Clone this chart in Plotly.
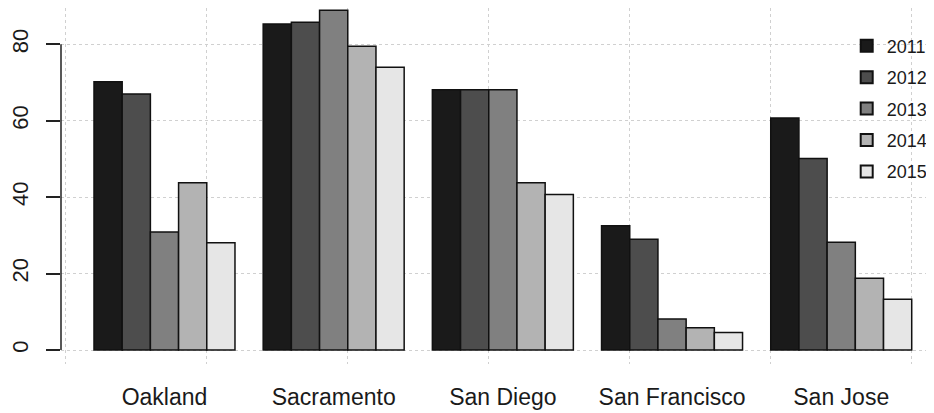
import plotly.graph_objects as go

cities = ["Oakland", "Sacramento", "San Diego", "San Francisco", "San Jose"]
years = ["2011", "2012", "2013", "2014", "2015"]
v2011 = [70.2, 85.3, 68.1, 32.5, 60.7]
v2012 = [67.0, 85.8, 68.1, 29.0, 50.1]
v2013 = [30.9, 88.9, 68.1, 8.1, 28.2]
v2014 = [43.8, 79.5, 43.8, 5.8, 18.8]
v2015 = [28.1, 74.0, 40.7, 4.6, 13.3]
series = [v2011, v2012, v2013, v2014, v2015]
colors = ["#1a1a1a", "#4d4d4d", "#808080", "#b3b3b3", "#e6e6e6"]
ytick_vals = [0, 20, 40, 60, 80]

# R barplot(beside=TRUE) coordinates: each group of 5 unit-wide bars preceded by 1 unit of space
nbar = len(years)
group_step = nbar + 1
centers = [group_step * g + 1 + nbar / 2 for g in range(len(cities))]

fig = go.Figure()
for j, (yr, vals, col) in enumerate(zip(years, series, colors)):
    xs = [group_step * g + 1.5 + j for g in range(len(cities))]
    fig.add_trace(go.Bar(
        x=xs, y=vals, width=1, name=yr,
        marker=dict(color=col, line=dict(color="#111111", width=1.5)),
        legendgroup=yr,
    ))

font_family = "Liberation Sans, Arial, sans-serif"
# page body has an 8px default margin, so the figure is 8px smaller than the window
fig.update_layout(
    width=926, height=405,
    margin=dict(l=53, r=0, t=0, b=49),
    paper_bgcolor="white", plot_bgcolor="white",
    barmode="overlay",
    showlegend=True,
    legend=dict(x=0.9, y=0.945, xanchor="left", yanchor="top",
                font=dict(size=18, color="#1a1a1a", family=font_family),
                tracegroupgap=5, bgcolor="rgba(0,0,0,0)", itemsizing="constant"),
    font=dict(family=font_family, color="#1a1a1a"),
    xaxis=dict(
        range=[-0.17, 30.79], tickmode="array", tickvals=centers, ticktext=cities,
        showgrid=False, zeroline=False, showline=False, ticks="",
        tickfont=dict(size=23, color="#1a1a1a"), ticklabelstandoff=17,
        minor=dict(tickmode="linear", tick0=0, dtick=5, showgrid=True,
                   gridcolor="#d0d0d0", griddash="dot", gridwidth=1.3, ticks=""),
    ),
    yaxis=dict(
        range=[-3.66, 89.5], tickmode="array", tickvals=ytick_vals,
        showgrid=True, gridcolor="#d0d0d0", griddash="dot", gridwidth=1.3,
        zeroline=False, showline=False, ticks="outside", ticklen=14,
        tickwidth=1.5, tickcolor="#222", tickangle=-90,
        tickfont=dict(size=22, color="#1a1a1a"), ticklabelstandoff=9,
    ),
)
# y axis line spanning only the tick range (R style)
fig.add_shape(type="line", xref="paper", yref="y", x0=0, x1=0,
              y0=ytick_vals[0], y1=ytick_vals[-1],
              line=dict(color="#222", width=1.5))

fig.write_html("out.html")
